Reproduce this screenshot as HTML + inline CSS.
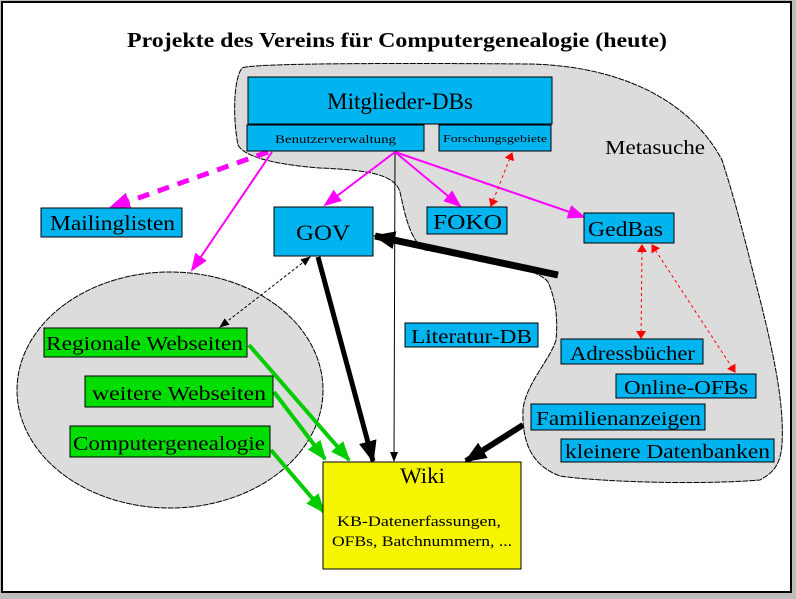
<!DOCTYPE html>
<html><head><meta charset="utf-8"><style>
html,body{margin:0;padding:0;background:#bdbdbd;}
svg{display:block;font-family:"Liberation Serif",serif;}
</style></head><body>
<svg width="796" height="599" viewBox="0 0 796 599" xmlns="http://www.w3.org/2000/svg">
<defs>
<marker id="mgb" markerWidth="22" markerHeight="18" refX="20" refY="9" orient="auto" markerUnits="userSpaceOnUse"><path d="M0,0 L22,9 L0,18 z" fill="#ff00ff"/></marker>
<marker id="mg2" markerWidth="18" markerHeight="14" refX="16" refY="7" orient="auto" markerUnits="userSpaceOnUse"><path d="M0,0 L18,7 L0,14 z" fill="#ff00ff"/></marker>
<marker id="bk" markerWidth="22" markerHeight="18" refX="20" refY="9" orient="auto" markerUnits="userSpaceOnUse"><path d="M0,0 L22,9 L0,18 z" fill="#000"/></marker>
<marker id="bks" markerWidth="10" markerHeight="8" refX="9" refY="4" orient="auto" markerUnits="userSpaceOnUse"><path d="M0,0 L10,4 L0,8 z" fill="#000"/></marker>
<marker id="bkss" markerWidth="10" markerHeight="8" refX="1" refY="4" orient="auto" markerUnits="userSpaceOnUse"><path d="M10,0 L0,4 L10,8 z" fill="#000"/></marker>
<marker id="rd" markerWidth="8" markerHeight="10" refX="7" refY="5" orient="auto" markerUnits="userSpaceOnUse"><path d="M0,0 L8,5 L0,10 z" fill="#ff0000"/></marker>
<marker id="rds" markerWidth="8" markerHeight="10" refX="1" refY="5" orient="auto" markerUnits="userSpaceOnUse"><path d="M8,0 L0,5 L8,10 z" fill="#ff0000"/></marker>
<marker id="gr" markerWidth="20" markerHeight="16" refX="18" refY="8" orient="auto" markerUnits="userSpaceOnUse"><path d="M0,0 L20,8 L0,16 z" fill="#00cc00"/></marker>
</defs>
<rect x="2" y="2" width="789" height="590" fill="#fff" stroke="#000" stroke-width="2"/>
<text x="397" y="47" text-anchor="middle" font-weight="bold" font-size="21" textLength="540" lengthAdjust="spacingAndGlyphs">Projekte des Vereins für Computergenealogie (heute)</text>

<path d="M242,68 C250,63 400,63 530,64 C620,66 690,100 722,160 C735,200 745,240 755,280 C768,330 780,380 782,420 C784,460 778,470 760,480 C700,485 600,482 560,476 C530,465 522,440 523,410 C525,385 550,360 556,340 C558,320 556,300 548,282 C535,265 470,258 425,250 C410,240 405,215 400,192 C395,175 370,170 320,168 C280,165 245,158 238,145 C233,120 233,80 242,68 z" fill="#dcdcdc" stroke="#000" stroke-width="1" stroke-dasharray="6,1"/>
<text x="605" y="154" font-size="20" textLength="100" lengthAdjust="spacingAndGlyphs">Metasuche</text>

<ellipse cx="170" cy="390" rx="153" ry="118" fill="#dcdcdc" stroke="#000" stroke-width="1" stroke-dasharray="6,1"/>

<line x1="395" y1="152" x2="394" y2="461" stroke="#000" stroke-width="1" marker-end="url(#bks)"/>
<path d="M268,152 L110,208" stroke="#ff00ff" stroke-width="5" stroke-dasharray="12,9" fill="none" marker-end="url(#mgb)"/>
<line x1="272" y1="152" x2="192" y2="270" stroke="#ff00ff" stroke-width="2" marker-end="url(#mg2)"/>
<line x1="395" y1="152" x2="325" y2="205" stroke="#ff00ff" stroke-width="2" marker-end="url(#mg2)"/>
<line x1="395" y1="152" x2="460" y2="206" stroke="#ff00ff" stroke-width="2" marker-end="url(#mg2)"/>
<line x1="395" y1="152" x2="584" y2="217" stroke="#ff00ff" stroke-width="2" marker-end="url(#mg2)"/>
<line x1="512" y1="153" x2="491" y2="206" stroke="#ff0000" stroke-width="1" stroke-dasharray="3,3" marker-start="url(#rds)" marker-end="url(#rd)"/>
<line x1="642" y1="245" x2="641" y2="338" stroke="#ff0000" stroke-width="1" stroke-dasharray="3,3" marker-start="url(#rds)" marker-end="url(#rd)"/>
<line x1="652" y1="245" x2="735" y2="372" stroke="#ff0000" stroke-width="1" stroke-dasharray="3,3" marker-start="url(#rds)" marker-end="url(#rd)"/>
<line x1="558" y1="275" x2="375" y2="236" stroke="#000" stroke-width="7" marker-end="url(#bk)"/>
<line x1="318" y1="257" x2="373" y2="461" stroke="#000" stroke-width="5" marker-end="url(#bk)"/>
<line x1="310" y1="257" x2="220" y2="327" stroke="#000" stroke-width="1" stroke-dasharray="3,2" marker-start="url(#bkss)" marker-end="url(#bks)"/>
<line x1="523" y1="425" x2="466" y2="461" stroke="#000" stroke-width="6" marker-end="url(#bk)"/>
<line x1="249" y1="345" x2="349" y2="460" stroke="#00cc00" stroke-width="4" marker-end="url(#gr)"/>
<line x1="274" y1="392" x2="325" y2="459" stroke="#00cc00" stroke-width="4" marker-end="url(#gr)"/>
<line x1="271" y1="450" x2="324" y2="512" stroke="#00cc00" stroke-width="4" marker-end="url(#gr)"/>

<g stroke="#000" stroke-width="1" fill="#00b4f0">
<rect x="248" y="77" width="304" height="47"/>
<rect x="247" y="125" width="177" height="26"/>
<rect x="439" y="125" width="112" height="26"/>
<rect x="274" y="207" width="99" height="49"/>
<rect x="427" y="207" width="80" height="27"/>
<rect x="584" y="213" width="90" height="30"/>
<rect x="41" y="208" width="141" height="29"/>
<rect x="405" y="323" width="133" height="24"/>
<rect x="561" y="339" width="142" height="25"/>
<rect x="616" y="374" width="140" height="24"/>
<rect x="531" y="404" width="174" height="26"/>
<rect x="561" y="439" width="213" height="23"/>
</g>
<g stroke="#000" stroke-width="1" fill="#00dd00">
<rect x="44" y="328" width="203" height="29"/>
<rect x="85" y="376" width="188" height="31"/>
<rect x="70" y="426" width="200" height="31"/>
</g>
<rect x="323" y="462" width="198" height="107" fill="#f5f500" stroke="#000" stroke-width="1"/>

<g font-size="21" lengthAdjust="spacingAndGlyphs">
<text x="327" y="109" font-size="23" textLength="146" lengthAdjust="spacingAndGlyphs">Mitglieder-DBs</text>
<text x="296" y="240" font-size="22" textLength="54" lengthAdjust="spacingAndGlyphs">GOV</text>
<text x="433" y="229" textLength="69" lengthAdjust="spacingAndGlyphs">FOKO</text>
<text x="588" y="236" textLength="75" lengthAdjust="spacingAndGlyphs">GedBas</text>
<text x="50" y="230" textLength="125" lengthAdjust="spacingAndGlyphs">Mailinglisten</text>
<text x="411" y="343" font-size="20" textLength="121" lengthAdjust="spacingAndGlyphs">Literatur-DB</text>
<text x="570" y="360" font-size="20" textLength="125" lengthAdjust="spacingAndGlyphs">Adressbücher</text>
<text x="624" y="394" font-size="20" textLength="124" lengthAdjust="spacingAndGlyphs">Online-OFBs</text>
<text x="536" y="425" font-size="20" textLength="165" lengthAdjust="spacingAndGlyphs">Familienanzeigen</text>
<text x="565" y="458" font-size="20" textLength="205" lengthAdjust="spacingAndGlyphs">kleinere Datenbanken</text>
<text x="46" y="350" font-size="20" textLength="197" lengthAdjust="spacingAndGlyphs">Regionale Webseiten</text>
<text x="92" y="400" font-size="20" textLength="174" lengthAdjust="spacingAndGlyphs">weitere Webseiten</text>
<text x="73" y="450" font-size="20" textLength="192" lengthAdjust="spacingAndGlyphs">Computergenealogie</text>
<text x="400" y="483" font-size="22" textLength="45" lengthAdjust="spacingAndGlyphs">Wiki</text>
<text x="337" y="526" font-size="15" textLength="164" lengthAdjust="spacingAndGlyphs">KB-Datenerfassungen,</text>
<text x="332" y="546" font-size="15" textLength="180" lengthAdjust="spacingAndGlyphs">OFBs, Batchnummern, ...</text>
<text x="275" y="143" font-size="12" textLength="121" lengthAdjust="spacingAndGlyphs">Benutzerverwaltung</text>
<text x="443" y="142" font-size="11" textLength="104" lengthAdjust="spacingAndGlyphs">Forschungsgebiete</text>
</g>
</svg>
</body></html>
